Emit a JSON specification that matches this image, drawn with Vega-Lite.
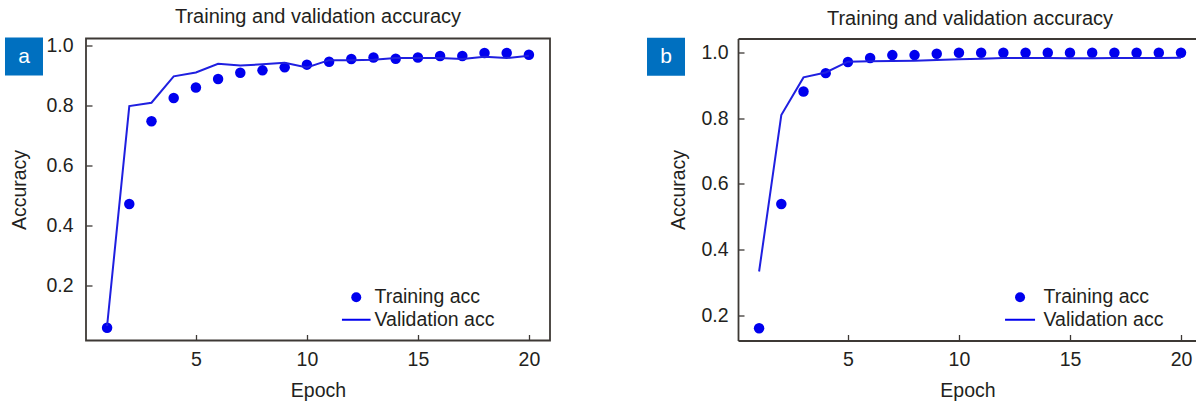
{
  "$schema": "https://vega.github.io/schema/vega-lite/v6.json",
  "background": "white",
  "padding": {"left": 4, "top": 5.5, "right": 0, "bottom": 0},
  "datasets": {
    "acc_a": [
      {"epoch": 1, "series": "Training acc", "acc": 0.059},
      {"epoch": 2, "series": "Training acc", "acc": 0.472},
      {"epoch": 3, "series": "Training acc", "acc": 0.748},
      {"epoch": 4, "series": "Training acc", "acc": 0.826},
      {"epoch": 5, "series": "Training acc", "acc": 0.861},
      {"epoch": 6, "series": "Training acc", "acc": 0.889},
      {"epoch": 7, "series": "Training acc", "acc": 0.910},
      {"epoch": 8, "series": "Training acc", "acc": 0.918},
      {"epoch": 9, "series": "Training acc", "acc": 0.928},
      {"epoch": 10, "series": "Training acc", "acc": 0.937},
      {"epoch": 11, "series": "Training acc", "acc": 0.947},
      {"epoch": 12, "series": "Training acc", "acc": 0.956},
      {"epoch": 13, "series": "Training acc", "acc": 0.961},
      {"epoch": 14, "series": "Training acc", "acc": 0.957},
      {"epoch": 15, "series": "Training acc", "acc": 0.961},
      {"epoch": 16, "series": "Training acc", "acc": 0.966},
      {"epoch": 17, "series": "Training acc", "acc": 0.966},
      {"epoch": 18, "series": "Training acc", "acc": 0.976},
      {"epoch": 19, "series": "Training acc", "acc": 0.976},
      {"epoch": 20, "series": "Training acc", "acc": 0.970},
      {"epoch": 1, "series": "Validation acc", "acc": 0.065},
      {"epoch": 2, "series": "Validation acc", "acc": 0.799},
      {"epoch": 3, "series": "Validation acc", "acc": 0.810},
      {"epoch": 4, "series": "Validation acc", "acc": 0.898},
      {"epoch": 5, "series": "Validation acc", "acc": 0.911},
      {"epoch": 6, "series": "Validation acc", "acc": 0.940},
      {"epoch": 7, "series": "Validation acc", "acc": 0.934},
      {"epoch": 8, "series": "Validation acc", "acc": 0.938},
      {"epoch": 9, "series": "Validation acc", "acc": 0.943},
      {"epoch": 10, "series": "Validation acc", "acc": 0.928},
      {"epoch": 11, "series": "Validation acc", "acc": 0.952},
      {"epoch": 12, "series": "Validation acc", "acc": 0.952},
      {"epoch": 13, "series": "Validation acc", "acc": 0.953},
      {"epoch": 14, "series": "Validation acc", "acc": 0.959},
      {"epoch": 15, "series": "Validation acc", "acc": 0.959},
      {"epoch": 16, "series": "Validation acc", "acc": 0.959},
      {"epoch": 17, "series": "Validation acc", "acc": 0.956},
      {"epoch": 18, "series": "Validation acc", "acc": 0.963},
      {"epoch": 19, "series": "Validation acc", "acc": 0.959},
      {"epoch": 20, "series": "Validation acc", "acc": 0.967}
    ],
    "acc_b": [
      {"epoch": 1, "series": "Training acc", "acc": 0.160},
      {"epoch": 2, "series": "Training acc", "acc": 0.539},
      {"epoch": 3, "series": "Training acc", "acc": 0.882},
      {"epoch": 4, "series": "Training acc", "acc": 0.938},
      {"epoch": 5, "series": "Training acc", "acc": 0.972},
      {"epoch": 6, "series": "Training acc", "acc": 0.984},
      {"epoch": 7, "series": "Training acc", "acc": 0.993},
      {"epoch": 8, "series": "Training acc", "acc": 0.993},
      {"epoch": 9, "series": "Training acc", "acc": 0.997},
      {"epoch": 10, "series": "Training acc", "acc": 1.0},
      {"epoch": 11, "series": "Training acc", "acc": 1.0},
      {"epoch": 12, "series": "Training acc", "acc": 1.0},
      {"epoch": 13, "series": "Training acc", "acc": 1.0},
      {"epoch": 14, "series": "Training acc", "acc": 1.0},
      {"epoch": 15, "series": "Training acc", "acc": 1.0},
      {"epoch": 16, "series": "Training acc", "acc": 1.0},
      {"epoch": 17, "series": "Training acc", "acc": 1.0},
      {"epoch": 18, "series": "Training acc", "acc": 1.0},
      {"epoch": 19, "series": "Training acc", "acc": 1.0},
      {"epoch": 20, "series": "Training acc", "acc": 1.0},
      {"epoch": 1, "series": "Validation acc", "acc": 0.333},
      {"epoch": 2, "series": "Validation acc", "acc": 0.810},
      {"epoch": 3, "series": "Validation acc", "acc": 0.925},
      {"epoch": 4, "series": "Validation acc", "acc": 0.940},
      {"epoch": 5, "series": "Validation acc", "acc": 0.973},
      {"epoch": 6, "series": "Validation acc", "acc": 0.974},
      {"epoch": 7, "series": "Validation acc", "acc": 0.975},
      {"epoch": 8, "series": "Validation acc", "acc": 0.976},
      {"epoch": 9, "series": "Validation acc", "acc": 0.978},
      {"epoch": 10, "series": "Validation acc", "acc": 0.980},
      {"epoch": 11, "series": "Validation acc", "acc": 0.982},
      {"epoch": 12, "series": "Validation acc", "acc": 0.984},
      {"epoch": 13, "series": "Validation acc", "acc": 0.984},
      {"epoch": 14, "series": "Validation acc", "acc": 0.984},
      {"epoch": 15, "series": "Validation acc", "acc": 0.983},
      {"epoch": 16, "series": "Validation acc", "acc": 0.983},
      {"epoch": 17, "series": "Validation acc", "acc": 0.984},
      {"epoch": 18, "series": "Validation acc", "acc": 0.984},
      {"epoch": 19, "series": "Validation acc", "acc": 0.984},
      {"epoch": 20, "series": "Validation acc", "acc": 0.985}
    ]
  },
  "config": {
    "font": "Liberation Sans",
    "view": {"stroke": "#3d3935", "strokeWidth": 1.8},
    "axis": {
      "grid": false,
      "domain": false,
      "labelFont": "Liberation Sans",
      "labelFontSize": 19.5,
      "labelColor": "#231f20",
      "titleFont": "Liberation Sans",
      "titleFontSize": 19.5,
      "titleFontWeight": "normal",
      "titleColor": "#231f20",
      "tickColor": "#3d3935",
      "tickWidth": 1.3,
      "tickSize": -6,
      "domainColor": "#3d3935",
      "domainWidth": 1.8
    },
    "legend": {
      "labelFont": "Liberation Sans",
      "labelFontSize": 19.5,
      "labelColor": "#231f20",
      "symbolOpacity": 1
    }
  },
  "bounds": "flush",
  "spacing": 188,
  "resolve": {
    "scale": {"x": "independent", "y": "independent", "shape": "independent"},
    "legend": {"shape": "independent"}
  },
  "hconcat": [
    {
      "width": 464,
      "height": 302,
      "title": {
        "text": "Training and validation accuracy",
        "font": "Liberation Sans",
        "fontSize": 20,
        "fontWeight": "normal",
        "color": "#231f20",
        "baseline": "alphabetic",
        "offset": -7,
        "frame": "group",
        "anchor": "middle"
      },
      "layer": [
        {
          "data": {"name": "acc_a"},
          "transform": [{"filter": "datum.series === 'Training acc'"}],
          "mark": {"type": "point", "filled": true, "opacity": 1, "size": 110, "color": "#0000ee"},
          "encoding": {
            "x": {
              "field": "epoch", "type": "quantitative",
              "scale": {"domain": [0.05, 20.95], "nice": false, "zero": false},
              "axis": {"values": [5, 10, 15, 20], "title": "Epoch", "labelPadding": 15.6, "titlePadding": 13}
            },
            "y": {
              "field": "acc", "type": "quantitative",
              "scale": {"domain": [0.0167, 1.0243], "nice": false, "zero": false},
              "axis": {"values": [0.2, 0.4, 0.6, 0.8, 1.0], "format": ".1f", "title": "Accuracy", "labelPadding": 19, "titlePadding": 16}
            },
            "shape": {
              "field": "series", "type": "nominal",
              "scale": {"domain": ["Training acc", "Validation acc"], "range": ["circle", "M-2.86,-0.2L2.86,-0.2L2.86,0.2L-2.86,0.2Z"]},
              "legend": {
                "title": null,
                "orient": "none",
                "legendX": 260.5,
                "legendY": 249,
                "padding": 0,
                "symbolSize": 100,
                "labelOffset": 8.5,
                "rowPadding": 1.5,
                "encode": {
                  "symbols": {
                    "update": {
                      "fill": {"value": "#0000ee"},
                      "stroke": {"value": "transparent"},
                      "strokeWidth": {"value": 0},
                      "opacity": {"value": 1}
                    }
                  }
                }
              }
            }
          }
        },
        {
          "data": {"name": "acc_a"},
          "transform": [{"filter": "datum.series === 'Validation acc'"}],
          "mark": {"type": "line", "color": "#1f1fe0", "strokeWidth": 2},
          "encoding": {
            "x": {"field": "epoch", "type": "quantitative"},
            "y": {"field": "acc", "type": "quantitative"}
          }
        },
        {
          "data": {"values": [{"badge": "a"}]},
          "mark": {"type": "square", "size": 1444, "filled": true, "opacity": 1, "color": "#0070c0", "clip": false},
          "encoding": {
            "x": {"datum": -2.743, "type": "quantitative"},
            "y": {"datum": 0.9642, "type": "quantitative"}
          }
        },
        {
          "data": {"values": [{"badge": "a"}]},
          "mark": {"type": "text", "color": "white", "font": "Liberation Sans", "fontSize": 21, "baseline": "alphabetic", "align": "center", "dy": 6.5, "clip": false},
          "encoding": {
            "x": {"datum": -2.743, "type": "quantitative"},
            "y": {"datum": 0.9642, "type": "quantitative"},
            "text": {"field": "badge", "type": "nominal"}
          }
        }
      ]
    },
    {
      "width": 459,
      "height": 302,
      "view": {"stroke": null},
      "title": {
        "text": "Training and validation accuracy",
        "font": "Liberation Sans",
        "fontSize": 20,
        "fontWeight": "normal",
        "color": "#231f20",
        "baseline": "alphabetic",
        "offset": -7,
        "frame": "group",
        "anchor": "middle",
        "dx": 2.5
      },
      "resolve": {"axis": {"x": "independent"}},
      "layer": [
        {
          "data": {"name": "acc_b"},
          "transform": [{"filter": "datum.series === 'Training acc'"}],
          "mark": {"type": "point", "filled": true, "opacity": 1, "size": 110, "color": "#0000ee"},
          "encoding": {
            "x": {
              "field": "epoch", "type": "quantitative",
              "scale": {"domain": [0.05, 20.72], "nice": false, "zero": false},
              "axis": {"orient": "top", "labels": false, "ticks": false, "title": null, "domain": true}
            },
            "y": {
              "field": "acc", "type": "quantitative",
              "scale": {"domain": [0.1226, 1.0436], "nice": false, "zero": false},
              "axis": {"values": [0.2, 0.4, 0.6, 0.8, 1.0], "format": ".1f", "title": "Accuracy", "labelPadding": 16, "titlePadding": 12, "domain": true}
            },
            "shape": {
              "field": "series", "type": "nominal",
              "scale": {"domain": ["Training acc", "Validation acc"], "range": ["circle", "M-3,-0.2L3,-0.2L3,0.2L-3,0.2Z"]},
              "legend": {
                "title": null,
                "orient": "none",
                "legendX": 272.3,
                "legendY": 249,
                "padding": 0,
                "symbolSize": 100,
                "labelOffset": 13.7,
                "rowPadding": 1.5,
                "encode": {
                  "symbols": {
                    "update": {
                      "fill": {"value": "#0000ee"},
                      "stroke": {"value": "transparent"},
                      "strokeWidth": {"value": 0},
                      "opacity": {"value": 1}
                    }
                  }
                }
              }
            }
          }
        },
        {
          "data": {"name": "acc_b"},
          "transform": [{"filter": "datum.series === 'Validation acc'"}],
          "mark": {"type": "line", "color": "#1f1fe0", "strokeWidth": 2},
          "encoding": {
            "x": {
              "field": "epoch", "type": "quantitative",
              "axis": {"values": [5, 10, 15, 20], "title": "Epoch", "labelPadding": 15.6, "titlePadding": 13, "domain": true}
            },
            "y": {"field": "acc", "type": "quantitative"}
          }
        },
        {
          "data": {"values": [{"badge": "b"}]},
          "mark": {"type": "square", "size": 1444, "filled": true, "opacity": 1, "color": "#0070c0", "clip": false},
          "encoding": {
            "x": {"datum": -3.192, "type": "quantitative", "axis": null},
            "y": {"datum": 0.988, "type": "quantitative"}
          }
        },
        {
          "data": {"values": [{"badge": "b"}]},
          "mark": {"type": "text", "color": "white", "font": "Liberation Sans", "fontSize": 21, "baseline": "alphabetic", "align": "center", "dy": 6.5, "clip": false},
          "encoding": {
            "x": {"datum": -3.192, "type": "quantitative", "axis": null},
            "y": {"datum": 0.988, "type": "quantitative"},
            "text": {"field": "badge", "type": "nominal"}
          }
        }
      ]
    }
  ]
}
